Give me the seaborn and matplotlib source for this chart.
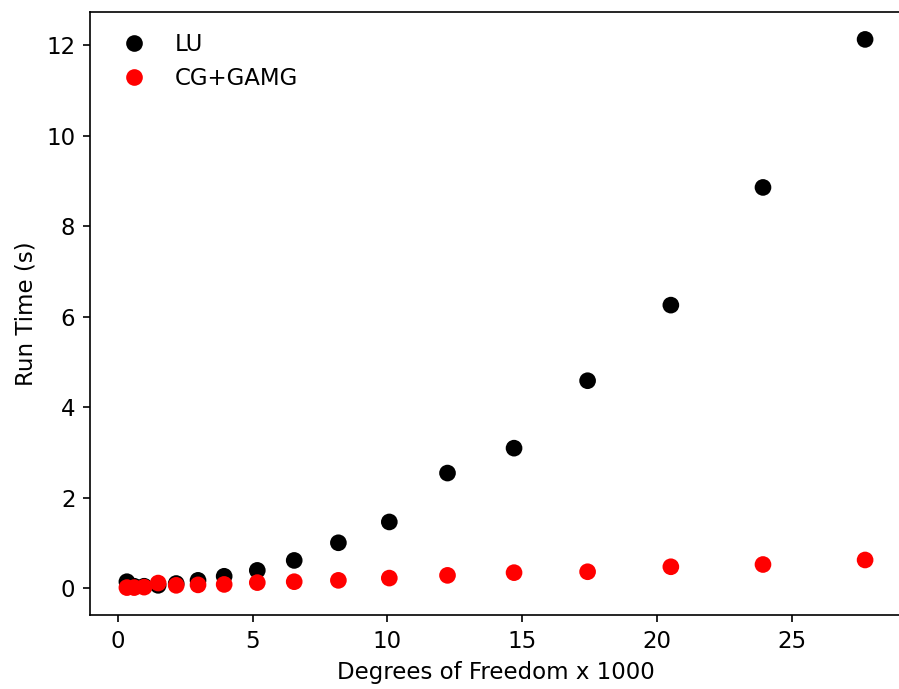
import pandas as pd
import seaborn as sns
import matplotlib
matplotlib.use('Agg')
import matplotlib.pyplot as plt

# degrees of freedom (thousands)
dof = [0.33, 0.6, 0.97, 1.49, 2.16, 2.97, 3.94, 5.17, 6.54, 8.18,
       10.07, 12.23, 14.7, 17.43, 20.52, 23.94, 27.73]
lu_time = [0.15, 0.05, 0.05, 0.07, 0.11, 0.18, 0.27, 0.4, 0.62, 1.01,
           1.47, 2.55, 3.1, 4.59, 6.26, 8.86, 12.13]
cg_time = [0.02, 0.02, 0.03, 0.12, 0.07, 0.08, 0.09, 0.13, 0.15, 0.18,
           0.23, 0.29, 0.35, 0.37, 0.48, 0.53, 0.63]
methods = ['LU', 'CG+GAMG']
colors = ['black', 'red']

df = pd.concat([
    pd.DataFrame({'DOF': dof, 'Time': lu_time, 'Method': methods[0]}),
    pd.DataFrame({'DOF': dof, 'Time': cg_time, 'Method': methods[1]}),
])

plt.rcParams['font.family'] = ['DejaVu Sans']
plt.rcParams['font.size'] = 11

fig = plt.figure(figsize=(899 / 150, 689 / 150), dpi=150)
ax = fig.add_axes([90 / 899, 74 / 689, 812 / 899, 603 / 689])

sns.scatterplot(data=df, x='DOF', y='Time', hue='Method', hue_order=methods,
                palette=colors, s=64, edgecolor='none', ax=ax)

ax.set_xlabel('Degrees of Freedom x 1000')
ax.set_ylabel('Run Time (s)')
ax.legend(title=None, loc='upper left', frameon=False)
ax.spines['right'].set_visible(False)

fig.savefig('out.png', dpi=150)
